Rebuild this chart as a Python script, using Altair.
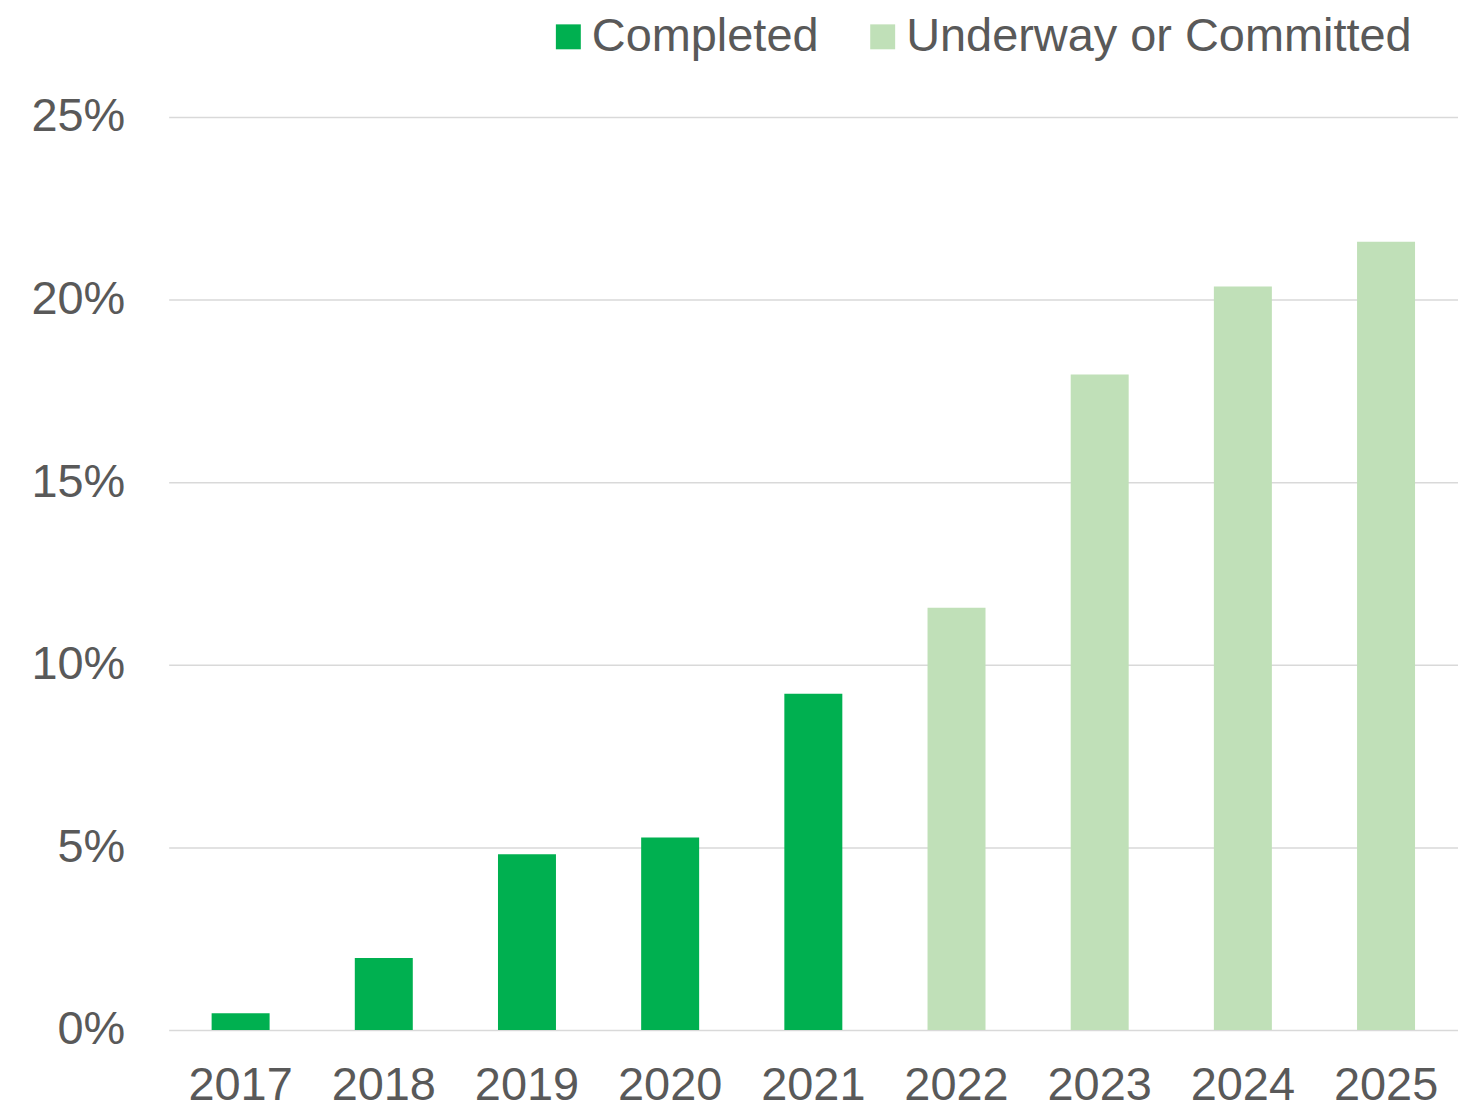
import altair as alt
import pandas as pd

years = ["2017", "2018", "2019", "2020", "2021", "2022", "2023", "2024", "2025"]
values = [0.0046, 0.0197, 0.0481, 0.0527, 0.0921, 0.1156, 0.1795, 0.2036, 0.2158]
status = ["Completed"] * 5 + ["Underway or Committed"] * 4

df = pd.DataFrame({"year": years, "value": values, "status": status})

font = "Liberation Sans"

chart = alt.Chart(df).mark_bar().encode(
    x=alt.X("year:N", sort=years, title=None,
            scale=alt.Scale(paddingInner=0.595, paddingOuter=0.3),
            axis=alt.Axis(labelAngle=0, labelFontSize=47, labelColor="#595959",
                          labelFont=font, ticks=False, domain=False, labelPadding=33)),
    y=alt.Y("value:Q", title=None,
            scale=alt.Scale(domain=[0, 0.25]),
            axis=alt.Axis(format=".0%", values=[0, 0.05, 0.10, 0.15, 0.20, 0.25],
                          labelFontSize=47, labelColor="#595959", labelFont=font,
                          ticks=False, domain=False, labelPadding=44,
                          gridColor="#d9d9d9", gridWidth=1.5)),
    color=alt.Color("status:N",
                    scale=alt.Scale(domain=["Completed", "Underway or Committed"],
                                    range=["#00b050", "#c0e0b8"]),
                    legend=alt.Legend(title=None, orient="none", direction="horizontal",
                                      legendX=377, legendY=-104,
                                      symbolType="square", symbolSize=625,
                                      symbolStrokeWidth=0,
                                      labelFontSize=47, labelColor="#595959",
                                      labelFont=font, labelLimit=800,
                                      columnPadding=40, labelOffset=0)),
).properties(
    width=1292, height=915,
    autosize=alt.AutoSizeParams(type="none"),
    padding={"left": 161, "top": 108, "right": 0, "bottom": 80},
).configure_view(stroke=None)

chart.save("out.html", embed_options={"renderer": "svg", "actions": False})
